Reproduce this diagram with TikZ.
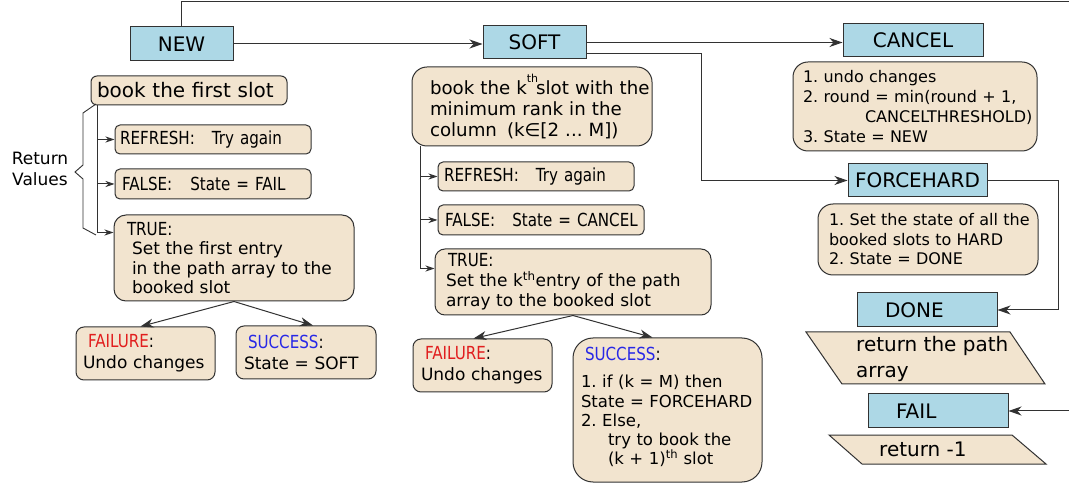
\documentclass[tikz,border=0pt]{standalone}
\usepackage{fontspec}
\setmainfont{DejaVu Sans}
\newfontfamily\cond{DejaVu Sans}[FakeStretch=0.84]
\usetikzlibrary{arrows.meta,calc}
\frenchspacing
\definecolor{boxfill}{RGB}{242,228,207}
\definecolor{stfill}{RGB}{173,216,230}
\definecolor{edge}{RGB}{50,50,50}
\definecolor{failred}{RGB}{225,30,30}
\definecolor{succblue}{RGB}{40,40,230}
\newcommand\fs[2]{\fontsize{#1pt}{#2pt}\selectfont}
\tikzset{
  st/.style={draw=edge, fill=stfill, line width=1pt, font=\fs{20}{24}, inner sep=0pt},
  bx/.style={draw=edge, fill=boxfill, line width=1pt, inner ysep=0pt, align=left},
  con/.style={draw=edge, line width=1pt},
  arr/.style={con, -{Stealth[length=13pt,width=9pt,inset=4pt]}},
  sarr/.style={con, -{Stealth[length=9pt,width=6pt,inset=3pt]}},
}
\begin{document}
\begin{tikzpicture}[x=1pt,y=-1pt]
\fill[white] (0,0) rectangle (1069,486);
\useasboundingbox (0,0) rectangle (1069,486);

% state boxes
\node[st, minimum width=103pt, minimum height=34pt] (NEW) at (181.5,44) {NEW};
\node[st, minimum width=103pt, minimum height=33pt] (SOFT) at (534.5,42.5) {SOFT};
\node[st, minimum width=140pt, minimum height=33pt] (CANCEL) at (913,40.5) {CANCEL};
\node[st, minimum width=139pt, minimum height=33pt] (FORCEHARD) at (917.5,180.5) {FORCEHARD};
\node[st, minimum width=140pt, minimum height=34pt, text width=84pt, inner xsep=28pt, align=left] (DONE) at (927,310) {DONE};
\node[st, minimum width=140pt, minimum height=34pt, text width=84pt, inner xsep=28pt, align=left] (FAIL) at (938,411) {FAIL};

% left column
\node[bx, rounded corners=6pt, minimum width=196pt, minimum height=29pt, text width=184pt, inner xsep=6pt, font=\fs{20}{24}] (bookL) at (189,90.5) {\mbox{book the first slot}};
\node[bx, rounded corners=5pt, minimum width=196pt, minimum height=29pt, text width=186pt, inner xsep=5pt, font=\cond\fs{18}{20}] (refL) at (213,139.5) {\mbox{REFRESH:\hspace{17pt}Try again}};
\node[bx, rounded corners=5pt, minimum width=196pt, minimum height=30pt, text width=182pt, inner xsep=7pt, font=\cond\fs{18}{20}] (falseL) at (213,184) {\mbox{FALSE:\hspace{18pt}State = FAIL}};
\node[bx, rounded corners=12pt, minimum width=240pt, minimum height=86pt, text width=214pt, inner xsep=13pt, font=\fs{17}{19.5}] (trueL) at (234,258)
  {\mbox{\cond\fs{18}{19.5}TRUE:}\\
   \mbox{\hspace*{5pt}Set the first entry}\\
   \mbox{\hspace*{5pt}in the path array to the}\\
   \mbox{\hspace*{5pt}booked slot}};
\node[bx, rounded corners=8pt, minimum width=139pt, minimum height=53pt, text width=125pt, inner xsep=7pt, font=\fs{17}{21}] (failL) at (145.5,353.5)
  {\mbox{\cond\fs{18}{21}\hspace*{5pt}\textcolor{failred}{FAILURE}:}\\
   \mbox{Undo changes}};
\node[bx, rounded corners=8pt, minimum width=140pt, minimum height=53pt, text width=124pt, inner xsep=8pt, font=\fs{17}{21}] (succL) at (306,352.5)
  {\mbox{\cond\fs{18}{21}\hspace*{4pt}\textcolor{succblue}{SUCCESS}:}\\
   \mbox{State = SOFT}};

% middle column
\node[bx, rounded corners=15pt, minimum width=240pt, minimum height=79pt, text width=204pt, inner xsep=18pt, font=\fs{18.2}{21}] (bookM) at (532,106.5)
  {\mbox{book the k\raisebox{12pt}{\fs{11}{11}th}\hspace{-2pt}slot with the}\\
   \mbox{minimum rank in the}\\
   \mbox{column\hspace{10pt}(k∈[2 ... M])}};
\node[bx, rounded corners=5pt, minimum width=196pt, minimum height=29pt, text width=184pt, inner xsep=6pt, font=\cond\fs{18}{20}] (refM) at (536,176.5) {\mbox{REFRESH:\hspace{17pt}Try again}};
\node[bx, rounded corners=5pt, minimum width=206pt, minimum height=30pt, text width=192pt, inner xsep=7pt, font=\cond\fs{18}{20}] (falseM) at (541,220) {\mbox{FALSE:\hspace{17pt}State = CANCEL}};
\node[bx, rounded corners=10pt, minimum width=276pt, minimum height=66pt, text width=254pt, inner xsep=11pt, font=\fs{17}{20}] (trueM) at (573,282)
  {\mbox{\cond\fs{18}{20}\hspace*{2pt}TRUE:}\\
   \mbox{Set the k\textsuperscript{th}entry of the path}\\
   \mbox{array to the booked slot}};
\node[bx, rounded corners=8pt, minimum width=139pt, minimum height=53pt, text width=123pt, inner xsep=8pt, font=\fs{17}{21}] (failM) at (482.5,365.5)
  {\mbox{\cond\fs{18}{21}\hspace*{4pt}\textcolor{failred}{FAILURE}:}\\
   \mbox{Undo changes}};
\node[bx, rounded corners=20pt, minimum width=189pt, minimum height=144pt, text width=173pt, inner xsep=8pt, font=\fs{16.5}{19.2}] (succM) at (667.5,410)
  {\mbox{\cond\fs{18}{19.2}\hspace*{4pt}\textcolor{succblue}{SUCCESS}:}\\[8pt]
   \mbox{1. if (k = M) then}\\
   \mbox{State = FORCEHARD}\\
   \mbox{2. Else,}\\
   \mbox{\hspace*{27pt}try to book the}\\
   \mbox{\hspace*{27pt}(k + 1)\textsuperscript{th} slot}\rule[-8pt]{0pt}{8pt}};

% right column
\node[bx, rounded corners=15pt, minimum width=244pt, minimum height=89pt, text width=224pt, inner xsep=10pt, font=\fs{16}{20}] (cancelB) at (915,106.5)
  {\mbox{1. undo changes}\\
   \mbox{2. round = min(round + 1,}\\
   \mbox{\hspace*{62pt}CANCELTHRESHOLD)}\\
   \mbox{3. State = NEW}};
\node[bx, rounded corners=15pt, minimum width=220pt, minimum height=71pt, text width=198pt, inner xsep=11pt, font=\fs{16}{19.5}] (forceB) at (928,239.5)
  {\mbox{1. Set the state of all the}\\
   \mbox{booked slots to HARD}\\
   \mbox{2. State = DONE}};

\filldraw[draw=edge, fill=boxfill, line width=1pt] (806,332) -- (1010,332) -- (1045,384) -- (842,384) -- cycle;
\node[anchor=west, inner sep=0pt, align=left, font=\fs{20}{26}] (retpath) at (856,359) {return the path\\array};
\filldraw[draw=edge, fill=boxfill, line width=1pt] (829,435) -- (1012,435) -- (1046,464) -- (862,464) -- cycle;
\node[anchor=west, inner sep=0pt, font=\fs{20}{24}] (retone) at (879,449.5) {return -1};

\node[align=center, inner sep=0pt, font=\fs{17}{21}] (retv) at (40,169) {Return\\Values};
\draw[edge, line width=0.9pt] (96,104) -- (83,113) -- (83,165) -- (75,172) -- (83,179) -- (83,228) -- (96,235);

% connectors
\coordinate (topR) at (1069,2);
\draw[con] (NEW.north) -- (NEW.north |- topR) -- (topR);
\draw[arr] (NEW.east) -- (NEW.east -| SOFT.west);
\draw[arr] (SOFT.east) -- (SOFT.east -| CANCEL.west);
\draw[arr] ([yshift=-11.5pt]SOFT.east) -- ++(115,0) |- (FORCEHARD.west);
\draw[arr] (FORCEHARD.east) -- ++(71,0) |- (DONE.east);
\coordinate (failR) at (1069,411);
\draw[arr] (failR) -- (FAIL.east);

\coordinate (vL) at ([xshift=7pt]bookL.south west);
\draw[sarr] (vL) |- ([yshift=-18pt]trueL.north west);
\draw[sarr] (vL |- refL.west) -- (refL.west);
\draw[sarr] (vL |- falseL.west) -- (falseL.west);

\coordinate (vM) at ([xshift=9pt]bookM.south west);
\draw[sarr] (vM) |- ([yshift=-20pt]trueM.north west);
\draw[sarr] (vM |- refM.west) -- (refM.west);
\draw[sarr] (vM |- falseM.west) -- (falseM.west);

\draw[arr] (trueL.south) -- ([xshift=-5pt]failL.north);
\draw[arr] (trueL.south) -- ([xshift=7pt]succL.north);
\draw[arr] (trueM.south) -- ([xshift=-9pt]failM.north);
\draw[arr] (trueM.south) -- ([xshift=-15pt]succM.north);
\end{tikzpicture}
\end{document}
